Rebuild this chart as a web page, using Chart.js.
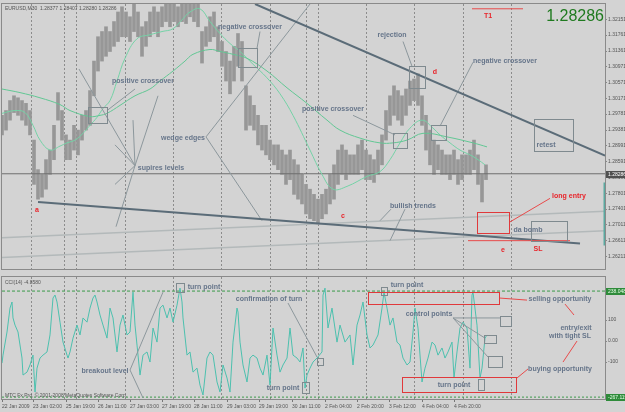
<!DOCTYPE html>
<html><head><meta charset="utf-8">
<script src="https://cdn.jsdelivr.net/npm/chart.js@4/dist/chart.umd.min.js"></script>
<style>
html,body{margin:0;padding:0;background:#d3d3d3;width:625px;height:412px;overflow:hidden}
#c1{position:absolute;left:0;top:0}
#c2{position:absolute;left:0;top:273px}
</style></head><body>
<canvas id="c1" width="625" height="273"></canvas>
<canvas id="c2" width="625" height="139"></canvas>
<script>
// ---------------- DATA ----------------
const symbolHeader = "EURUSD,M30  1.28377 1.28407 1.28280 1.28286";
const currentPrice = 1.28286;
const cciHeader = "CCI(14) -4.8580";
const copyright = "MTC Fx Pro, \u00A9 2001-2008 MetaQuotes Software Corp.";

const priceBars = [0,4,8,12,16,20,24,28,32,36,40,44,48,52,56,60,64,68,72,76,80,84,88,92,96,100,104,108,112,116,120,124,128,132,136,140,144,148,152,156,160,164,168,172,176,180,184,188,192,196,200,204,208,212,216,220,224,228,232,236,240,244,248,252,256,260,264,268,272,276,280,284,288,292,296,300,304,308,312,316,320,324,328,332,336,340,344,348,352,356,360,364,368,372,376,380,384,388,392,396,400,404,408,412,416,420,424,428,432,436,440,444,448,452,456,460,464,468,472,476,480,484];
const priceHigh = [1.2975,1.2987,1.3012,1.3024,1.3019,1.3012,1.3005,1.2987,1.2913,1.2839,1.2827,1.2864,1.2888,1.2950,1.3032,1.2987,1.2926,1.2913,1.2950,1.2938,1.2975,1.2987,1.3037,1.3111,1.3172,1.3185,1.3197,1.3185,1.3210,1.3234,1.3247,1.3234,1.3222,1.3259,1.3234,1.3197,1.3210,1.3234,1.3247,1.3234,1.3247,1.3270,1.3254,1.3270,1.3247,1.3270,1.3254,1.3275,1.3270,1.3265,1.3185,1.3197,1.3222,1.3234,1.3197,1.3160,1.3135,1.3111,1.3148,1.3180,1.3160,1.3049,1.3024,1.3000,1.2975,1.2950,1.2950,1.2913,1.2901,1.2901,1.2888,1.2876,1.2888,1.2864,1.2851,1.2827,1.2802,1.2790,1.2777,1.2765,1.2777,1.2790,1.2827,1.2851,1.2888,1.2901,1.2888,1.2876,1.2876,1.2901,1.2913,1.2888,1.2876,1.2864,1.2888,1.2926,1.2987,1.3024,1.3049,1.3037,1.3024,1.3041,1.3061,1.3066,1.3079,1.3024,1.2975,1.2938,1.2913,1.2901,1.2888,1.2876,1.2876,1.2888,1.2864,1.2876,1.2876,1.2888,1.2913,1.2876,1.2827,1.2851];
const priceLow = [1.2926,1.2938,1.2963,1.2982,1.2975,1.2963,1.2950,1.2926,1.2802,1.2765,1.2770,1.2790,1.2827,1.2864,1.2963,1.2913,1.2864,1.2864,1.2888,1.2876,1.2913,1.2938,1.2950,1.3024,1.3086,1.3111,1.3123,1.3135,1.3148,1.3160,1.3172,1.3172,1.3160,1.3185,1.3172,1.3123,1.3148,1.3172,1.3185,1.3172,1.3197,1.3210,1.3197,1.3210,1.3197,1.3210,1.3205,1.3222,1.3210,1.3197,1.3106,1.3148,1.3160,1.3172,1.3135,1.3098,1.3061,1.3029,1.3061,1.3098,1.3061,1.2938,1.2950,1.2938,1.2901,1.2888,1.2876,1.2864,1.2851,1.2839,1.2827,1.2802,1.2814,1.2777,1.2765,1.2753,1.2728,1.2716,1.2711,1.2703,1.2716,1.2728,1.2753,1.2765,1.2802,1.2827,1.2814,1.2827,1.2827,1.2827,1.2839,1.2814,1.2814,1.2807,1.2827,1.2851,1.2913,1.2950,1.2975,1.2963,1.2950,1.2975,1.3000,1.3012,1.3000,1.2950,1.2888,1.2851,1.2827,1.2839,1.2827,1.2827,1.2814,1.2827,1.2802,1.2814,1.2827,1.2827,1.2839,1.2802,1.2758,1.2814];

const slowMaBars = [0,18,38,58,68,88,98,105,118,133,148,158,171,183,191,208,218,231,245,265,285,305,325,338,358,378,391,405,421,445,471,485];
const slowMa = [1.3041,1.3032,1.3019,1.3002,1.2987,1.2972,1.2975,1.2980,1.3000,1.3024,1.3041,1.3061,1.3086,1.3111,1.3128,1.3140,1.3135,1.3128,1.3118,1.3086,1.3044,1.3005,1.2963,1.2938,1.2918,1.2906,1.2906,1.2913,1.2930,1.2921,1.2906,1.2896];
const fastMaBars = [0,13,23,31,38,48,58,65,73,81,88,95,101,108,115,123,135,148,160,171,181,188,198,208,218,228,238,251,265,278,291,308,320,331,345,365,378,388,398,408,420,431,438,448,458,468,476,483];
const fastMa = [1.2980,1.2987,1.2982,1.2950,1.2913,1.2888,1.2898,1.2906,1.2913,1.2930,1.2950,1.2970,1.2992,1.3012,1.3061,1.3118,1.3167,1.3177,1.3185,1.3192,1.3217,1.3234,1.3242,1.3210,1.3180,1.3155,1.3135,1.3103,1.3069,1.3029,1.2975,1.2888,1.2827,1.2790,1.2797,1.2822,1.2834,1.2864,1.2906,1.2943,1.2963,1.2943,1.2926,1.2906,1.2888,1.2876,1.2864,1.2851];

const cciBars = [0,1,5,8,10,11,13,16,20,21,25,28,31,33,35,38,41,45,48,51,53,55,58,61,65,66,68,71,75,78,81,85,88,91,93,95,98,101,105,108,111,115,118,121,125,128,131,133,135,138,141,145,148,151,155,158,161,165,168,171,175,178,180,181,185,188,191,195,198,201,205,208,211,215,218,221,225,228,231,235,236,238,241,245,248,251,255,258,261,265,268,271,275,278,281,285,288,291,295,298,301,303,305,308,311,315,320,321,323,326,330,335,338,343,348,351,355,358,361,365,368,371,376,380,382,385,388,391,395,398,401,405,408,411,413,416,420,423,426,430,433,436,440,443,446,450,452,455,458,461,465,468,470,471,475,478,480,483,485];
const cciValues = [-105,-67,43,157,186,110,76,43,-81,-162,-148,-114,-67,-243,-129,-81,-67,-52,29,205,219,186,90,-5,-67,-81,-52,14,76,29,110,90,157,205,219,186,124,76,14,157,110,-52,76,124,29,43,233,76,-19,-162,-67,-52,-100,62,-5,157,171,110,157,90,171,252,186,110,-67,-52,-148,-129,-210,-257,-81,-52,-67,-195,-243,-114,-176,-243,-5,157,138,-5,-114,-195,-81,-67,-81,-129,-162,-67,-210,62,-67,-148,-114,-81,62,-67,-81,-100,-33,-224,-162,-129,-100,-81,-52,219,252,62,157,-5,76,-5,29,-114,76,124,186,29,-33,-19,29,157,233,157,76,110,-5,-19,-81,-114,-100,43,157,62,-195,-129,-81,-5,-19,-67,-33,-81,-52,-5,-176,-52,62,90,62,-129,219,233,76,-176,-129,14,29];
const cciLevels = [238, -267];
const cciLevelLabels = ["238.0489", "-267.1190"];

const priceTicks = [1.32151,1.31761,1.31361,1.30971,1.30571,1.30171,1.29781,1.29381,1.28991,1.28591,1.28191,1.27801,1.27401,1.27011,1.26611,1.26211];
const cciTicks = [100, 0, -100];
const cciTickLabels = ["100", "0.00", "-100"];
const xTickBars = [0,31,64,96,128,160,192,225,257,290,323,355,387,420,452];
const xTickLabels = ["22 Jan 2009","23 Jan 02:00","25 Jan 19:00","26 Jan 11:00","27 Jan 03:00","27 Jan 19:00","28 Jan 11:00","29 Jan 03:00","29 Jan 19:00","30 Jan 11:00","2 Feb 04:00","2 Feb 20:00","3 Feb 12:00","4 Feb 04:00","4 Feb 20:00"];
const separatorBars = [29,62,74,123,171,219,268,304,316,364,412,461,509];

// annotations (bar index, price / CCI value)
const darkTrends = [[253,1.3254,603,1.2874],[36,1.2758,578,1.2654]];
const bullishLines = [[0,1.2668,603,1.2735],[0,1.2619,603,1.2686]];
const grayPointers = [[133,1.3041,105,1.2987],[133,1.2849,77,1.3091],[133,1.2849,113,1.2901],[133,1.2849,131,1.2963],[133,1.2849,156,1.3024],[133,1.2849,113,1.2802],[133,1.2849,114,1.2696],[204,1.2921,308,1.3254],[204,1.2921,260,1.2711],[258,1.3185,255,1.3143],[401,1.3160,410,1.3098],[351,1.2975,393,1.2926],[471,1.3108,438,1.2948],[389,1.2740,378,1.2711],[403,1.2740,388,1.2661]];
const redPointers = [[548,1.2767,508,1.2708],[466,1.2661,568,1.2661],[470,1.3242,521,1.3242]];
const edgeMarker = [603,1.2807,603,1.2649];
const priceBoxes = [[86,1.2995,105,1.2955],[236,1.3143,255,1.3096],[407,1.3098,423,1.3044],[391,1.2930,405,1.2893],[429,1.2950,444,1.2913],[532,1.2965,571,1.2886],[529,1.2711,565,1.2661]];
const priceRedBoxes = [[475,1.2733,507,1.2681]];
const priceNotes = [["positive crossover",141,1.3061],["wedge edges",181,1.2918],["supires levels",159,1.2842],["negative crossover",248,1.3195],["rejection",390,1.3175],["positive crossover",331,1.2992],["negative crossover",503,1.3111],["retest",544,1.2901],["bullish trends",411,1.2748],["da bomb",526,1.2688]];
const priceRedNotes = [["long entry",567,1.2772],["SL",536,1.2641],["a",35,1.2738],["c",341,1.2723],["d",433,1.3083],["e",501,1.2637],["T1",486,1.3224]];

const cciPointers = [[286,181,315,-76],[128,-138,161,233],[128,-138,141,-271],[451,110,498,110],[451,110,483,14],[451,110,486,-76]];
const cciRedPointers = [[497,205,525,195],[563,176,572,124],[575,0,561,-100],[526,-133,515,-176]];
const cciBoxes = [[174,276,182,233],[315,-81,321,-114],[300,-195,307,-248],[379,257,385,219],[498,119,509,71],[482,29,494,-10],[486,-71,500,-124],[476,-181,482,-233]];
const cciRedBoxes = [[366,233,497,176],[400,-171,514,-243]];
const cciNotes = [["turn point",202,257],["confirmation of turn",267,200],["breakout level",103,-143],["turn point",281,-224],["turn point",405,267],["selling opportunity",558,200],["control points",427,129],["entry/exit",574,62],["with tight SL",568,24],["buying opportunity",558,-133],["turn point",452,-210]];

// ---------------- STYLE / HELPERS ----------------
const NOTE_FONT = 'bold 7px "Liberation Sans", Arial, sans-serif';
const SMALL_FONT = '5px "Liberation Sans", Arial, sans-serif';
const NOTE_COL = '#66758a', RED = '#e8242a', BOX_COL = '#7f8a8f', FRAME = '#8a8a8a';

function seg(s, color, width, order, dash) {
  return {type:'line', data:[{x:s[0],y:s[1]},{x:s[2],y:s[3]}], borderColor:color, borderWidth:width,
    borderDash:dash||[], pointRadius:0, order:order, tension:0, fill:false};
}
function series(xs, ys) { return xs.map((x,i)=>({x:x, y:ys[i]})); }

const annoPlugin = {
  id:'anno',
  beforeDatasetsDraw(chart, args, o) {
    const {ctx, chartArea:a, scales:{x}} = chart;
    ctx.save();
    ctx.strokeStyle = '#8c8c8c'; ctx.lineWidth = 1; ctx.setLineDash([2,2]);
    separatorBars.forEach(b => {
      const px = Math.round(x.getPixelForValue(b)) + 0.5;
      ctx.beginPath(); ctx.moveTo(px, a.top); ctx.lineTo(px, a.bottom); ctx.stroke();
    });
    ctx.restore();
  },
  afterDatasetsDraw(chart, args, o) {
    const {ctx, chartArea:a, scales:{x, y}} = chart;
    ctx.save();
    ctx.beginPath(); ctx.rect(a.left, a.top, a.right-a.left, a.bottom-a.top); ctx.clip();
    const box = (b, col) => {
      const x1 = Math.round(x.getPixelForValue(b[0])), x2 = Math.round(x.getPixelForValue(b[2]));
      const y1 = Math.round(y.getPixelForValue(b[1])), y2 = Math.round(y.getPixelForValue(b[3]));
      ctx.strokeStyle = col; ctx.lineWidth = 1;
      ctx.strokeRect(Math.min(x1,x2)+0.5, Math.min(y1,y2)+0.5, Math.abs(x2-x1), Math.abs(y2-y1));
    };
    (o.boxes||[]).forEach(b => box(b, BOX_COL));
    (o.redBoxes||[]).forEach(b => box(b, '#e0393b'));
    ctx.textAlign = 'center'; ctx.textBaseline = 'middle';
    ctx.font = NOTE_FONT;
    (o.notes||[]).forEach(n => { ctx.fillStyle = NOTE_COL; ctx.fillText(n[0], x.getPixelForValue(n[1]), y.getPixelForValue(n[2])); });
    (o.redNotes||[]).forEach(n => { ctx.fillStyle = RED; ctx.fillText(n[0], x.getPixelForValue(n[1]), y.getPixelForValue(n[2])); });
    ctx.restore();
  },
  afterDraw(chart, args, o) {
    const {ctx, chartArea:a, scales:{y}} = chart;
    ctx.save();
    ctx.strokeStyle = FRAME; ctx.lineWidth = 1; ctx.setLineDash([]);
    ctx.strokeRect(a.left-0.5, a.top-0.5, a.right-a.left+1, a.bottom-a.top+1);
    if (o.extra) o.extra(chart, ctx, a, y);
    ctx.restore();
  }
};

function axisBadge(ctx, a, py, text, bg, fg) {
  ctx.fillStyle = bg; ctx.fillRect(a.right+1, Math.round(py)-3, 19, 7);
  ctx.fillStyle = fg; ctx.font = SMALL_FONT; ctx.textAlign='left'; ctx.textBaseline='middle';
  ctx.fillText(text, a.right+3, Math.round(py)+0.5);
}

// ---------------- PRICE CHART ----------------
const priceDatasets = [
  {type:'bar', data: priceBars.map((b,i)=>({x:b, y:[priceLow[i], priceHigh[i]]})), backgroundColor:'#979797',
   barThickness:3, grouped:false, order:20},
  {type:'line', data: series(slowMaBars, slowMa), borderColor:'#62c794', borderWidth:1, pointRadius:0, tension:0.4, order:10},
  {type:'line', data: series(fastMaBars, fastMa), borderColor:'#74d2a6', borderWidth:1, pointRadius:0, tension:0.4, order:10},
  seg([0,currentPrice,603,currentPrice], '#6e6e6e', 1, 12),
];
bullishLines.forEach(s => priceDatasets.push(seg(s, '#b3b9ba', 1.5, 8)));
grayPointers.forEach(s => priceDatasets.push(seg(s, '#8c979c', 1, 7)));
darkTrends.forEach(s => priceDatasets.push(seg(s, '#5b6c78', 2, 5)));
redPointers.forEach(s => priceDatasets.push(seg(s, '#e84a4a', 1, 4)));
priceDatasets.push(seg(edgeMarker, '#5aa9a0', 3, 3));

new Chart(document.getElementById('c1'), {
  type:'bar',
  data:{datasets: priceDatasets},
  options:{
    responsive:false, animation:false, devicePixelRatio:1,
    layout:{padding:{left:2, top:2, bottom:2, right:0}},
    plugins:{legend:{display:false}, tooltip:{enabled:false},
      anno:{boxes:priceBoxes, redBoxes:priceRedBoxes, notes:priceNotes, redNotes:priceRedNotes,
        extra:(chart, ctx, a, y) => {
          ctx.font = SMALL_FONT; ctx.fillStyle = '#555'; ctx.textAlign='left'; ctx.textBaseline='middle';
          ctx.fillText(symbolHeader, a.left+3, a.top+5);
          ctx.font = '16px "Liberation Sans", Arial, sans-serif'; ctx.fillStyle = '#1f7a1f';
          ctx.textAlign='right'; ctx.textBaseline='top';
          ctx.fillText(currentPrice.toFixed(5), a.right-1, a.top+5);
          axisBadge(ctx, a, y.getPixelForValue(currentPrice), currentPrice.toFixed(5), '#505050', '#fff');
        }}},
    scales:{
      x:{type:'linear', min:0, max:603, display:false, offset:false},
      y:{type:'linear', position:'right', min:1.2590, max:1.3254,
        afterBuildTicks: s => { s.ticks = priceTicks.map(v=>({value:v})); },
        afterFit: s => { s.width = 20; },
        grid:{drawOnChartArea:false, drawTicks:true, tickLength:2, color:'#888'},
        border:{display:false},
        ticks:{font:{size:5, family:'"Liberation Sans", Arial'}, color:'#555', padding:1,
          callback: v => v.toFixed(5)}}
    }
  },
  plugins:[annoPlugin]
});

// ---------------- CCI CHART ----------------
const cciDatasets = [
  {type:'line', data: series(cciBars, cciValues), borderColor:'#4cc0ae', borderWidth:1, pointRadius:0, tension:0, order:10},
  seg([0,cciLevels[0],603,cciLevels[0]], '#3b9a4a', 1, 12, [3,2]),
  seg([0,cciLevels[1],603,cciLevels[1]], '#3b9a4a', 1, 12, [2,2]),
];
cciPointers.forEach(s => cciDatasets.push(seg(s, '#8c979c', 1, 7)));
cciRedPointers.forEach(s => cciDatasets.push(seg(s, '#e84a4a', 1, 4)));

new Chart(document.getElementById('c2'), {
  type:'line',
  data:{datasets: cciDatasets},
  options:{
    responsive:false, animation:false, devicePixelRatio:1,
    layout:{padding:{left:2, top:4, bottom:0, right:0}},
    plugins:{legend:{display:false}, tooltip:{enabled:false},
      anno:{boxes:cciBoxes, redBoxes:cciRedBoxes, notes:cciNotes,
        extra:(chart, ctx, a, y) => {
          ctx.font = SMALL_FONT; ctx.fillStyle = '#555'; ctx.textAlign='left'; ctx.textBaseline='middle';
          ctx.fillText(cciHeader, a.left+3, a.top+6);
          ctx.fillText(copyright, a.left+3, a.bottom-3);
          cciLevels.forEach((v,i) => axisBadge(ctx, a, y.getPixelForValue(v), cciLevelLabels[i], '#2e8b3a', '#e8ffe8'));
        }}},
    scales:{
      x:{type:'linear', min:0, max:603, offset:false,
        afterBuildTicks: s => { s.ticks = xTickBars.map(v=>({value:v})); },
        afterFit: s => { s.height = 13; },
        grid:{drawOnChartArea:false, drawTicks:true, tickLength:3, color:'#777'},
        border:{display:false},
        ticks:{align:'start', maxRotation:0, autoSkip:false, font:{size:5, family:'"Liberation Sans", Arial'}, color:'#555', padding:2,
          callback:(v, i) => xTickLabels[i]}},
      y:{type:'linear', position:'right', min:-276, max:305,
        afterBuildTicks: s => { s.ticks = cciTicks.map(v=>({value:v})); },
        afterFit: s => { s.width = 20; },
        grid:{drawOnChartArea:false, drawTicks:true, tickLength:2, color:'#888'},
        border:{display:false},
        ticks:{font:{size:5, family:'"Liberation Sans", Arial'}, color:'#555', padding:1,
          callback:(v, i) => cciTickLabels[i]}}
    }
  },
  plugins:[annoPlugin]
});
</script>
</body></html>
